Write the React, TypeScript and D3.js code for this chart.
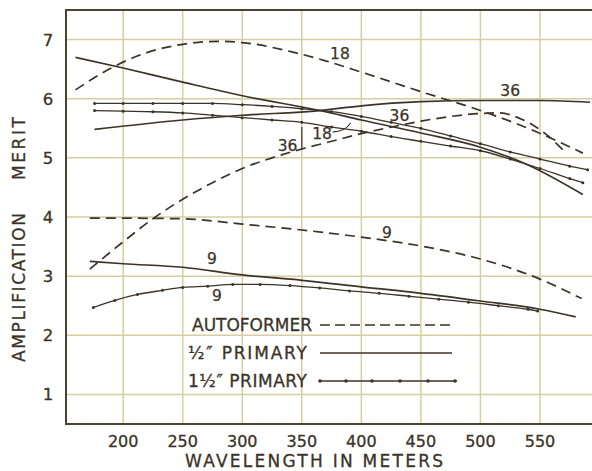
import React, { useEffect, useRef } from "react";
import * as d3 from "d3";

const W = 592;
const H = 471;

// wavelength in meters and amplification merit
const autoformer18X = [160, 190, 220, 250, 280, 300, 340, 370, 400, 450, 500, 540, 586];
const autoformer18Y = [6.15, 6.52, 6.78, 6.92, 6.97, 6.95, 6.8, 6.64, 6.45, 6.12, 5.8, 5.5, 5.08];

const autoformer36X = [172, 200, 225, 250, 275, 300, 325, 350, 375, 400, 425, 450, 475, 500, 515, 535, 555, 570];
const autoformer36Y = [3.12, 3.58, 3.97, 4.3, 4.58, 4.82, 5.0, 5.15, 5.28, 5.41, 5.52, 5.62, 5.7, 5.75, 5.76, 5.65, 5.4, 5.12];

const autoformer9X = [172, 200, 250, 300, 350, 400, 450, 500, 550, 585];
const autoformer9Y = [3.98, 3.98, 3.97, 3.88, 3.78, 3.66, 3.51, 3.29, 2.95, 2.62];

const half18X = [160, 200, 250, 300, 365, 400, 450, 500, 540, 586];
const half18Y = [6.7, 6.52, 6.28, 6.05, 5.8, 5.64, 5.42, 5.18, 4.88, 4.38];

const half36X = [176, 250, 300, 365, 400, 450, 500, 550, 592];
const half36Y = [5.48, 5.64, 5.72, 5.8, 5.88, 5.95, 5.97, 5.97, 5.94];

const half9X = [172, 200, 250, 300, 350, 400, 450, 500, 550, 580];
const half9Y = [3.25, 3.21, 3.15, 3.02, 2.93, 2.82, 2.71, 2.58, 2.44, 2.31];

const oneHalf18X = [176, 200, 225, 250, 275, 300, 325, 350, 375, 400, 425, 450, 475, 500, 525, 550, 575, 590];
const oneHalf18Y = [5.92, 5.92, 5.92, 5.92, 5.92, 5.9, 5.87, 5.83, 5.78, 5.7, 5.6, 5.5, 5.37, 5.24, 5.1, 4.98, 4.86, 4.8];

const oneHalf36X = [176, 200, 225, 250, 275, 300, 325, 350, 375, 400, 425, 450, 475, 500, 525, 550, 575, 586];
const oneHalf36Y = [5.8, 5.79, 5.78, 5.76, 5.72, 5.68, 5.64, 5.6, 5.52, 5.45, 5.36, 5.28, 5.2, 5.12, 4.98, 4.82, 4.65, 4.58];

const oneHalf9X = [175, 193, 212, 233, 250, 271, 292, 315, 340, 365, 390, 415, 440, 465, 490, 515, 540, 548];
const oneHalf9Y = [2.47, 2.59, 2.69, 2.76, 2.81, 2.83, 2.86, 2.86, 2.84, 2.8, 2.75, 2.71, 2.66, 2.61, 2.56, 2.5, 2.44, 2.41];

const xTicks = [200, 250, 300, 350, 400, 450, 500, 550];
const yTicks = [1, 2, 3, 4, 5, 6, 7];

// curve numbers written on the chart (wavelength, merit)
const curveLabels = [
  { text: "18", x: 382, y: 6.77 },
  { text: "36", x: 525, y: 6.15 },
  { text: "36", x: 432, y: 5.72 },
  { text: "18", x: 367, y: 5.42 },
  { text: "36", x: 338, y: 5.22 },
  { text: "9", x: 421.5, y: 3.75 },
  { text: "9", x: 274.6, y: 3.31 },
  { text: "9", x: 278.8, y: 2.68 },
];

const legendNames = ["AUTOFORMER", "\u00BD\u2033 PRIMARY", "1\u00BD\u2033 PRIMARY"];

const ink = "#3b3327";
const gridColor = "#d6cea0";
const font = "'DejaVu Sans', sans-serif";

export default function App() {
  const ref = useRef<SVGSVGElement>(null);

  useEffect(() => {
    const svg = d3.select(ref.current);
    svg.selectAll("*").remove();

    const x = d3.scaleLinear().domain([152, 592]).range([66, 590]);
    const y = d3.scaleLinear().domain([0.5, 7.5]).range([424, 10]);

    // grid
    svg
      .append("g")
      .selectAll("line")
      .data(xTicks)
      .enter()
      .append("line")
      .attr("x1", (d) => x(d))
      .attr("x2", (d) => x(d))
      .attr("y1", y(7.5))
      .attr("y2", y(0.5))
      .attr("stroke", gridColor)
      .attr("stroke-width", 1.5);

    svg
      .append("g")
      .selectAll("line")
      .data(yTicks)
      .enter()
      .append("line")
      .attr("x1", x(152))
      .attr("x2", W)
      .attr("y1", (d) => y(d))
      .attr("y2", (d) => y(d))
      .attr("stroke", gridColor)
      .attr("stroke-width", 1.5);

    // frame: left, bottom, top
    svg
      .append("path")
      .attr("d", `M${W},${y(7.5)}H${x(152)}V${y(0.5)}H${W}`)
      .attr("fill", "none")
      .attr("stroke", "#4a4334")
      .attr("stroke-width", 2);

    // tick labels
    svg
      .append("g")
      .selectAll("text")
      .data(xTicks)
      .enter()
      .append("text")
      .attr("x", (d) => x(d))
      .attr("y", 447)
      .attr("text-anchor", "middle")
      .attr("font-family", font)
      .attr("font-size", 16)
      .attr("fill", ink)
      .attr("stroke", ink)
      .attr("stroke-width", 0.3)
      .text((d) => d);

    svg
      .append("g")
      .selectAll("text")
      .data(yTicks)
      .enter()
      .append("text")
      .attr("x", 48)
      .attr("y", (d) => y(d) + 6)
      .attr("text-anchor", "middle")
      .attr("font-family", font)
      .attr("font-size", 16.5)
      .attr("fill", ink)
      .attr("stroke", ink)
      .attr("stroke-width", 0.3)
      .text((d) => d);

    // axis titles
    svg
      .append("text")
      .attr("x", 185)
      .attr("y", 467)
      .attr("font-family", font)
      .attr("font-size", 17)
      .attr("fill", ink)
      .attr("stroke", ink)
      .attr("stroke-width", 0.3)
      .attr("textLength", 258)
      .attr("lengthAdjust", "spacing")
      .text("WAVELENGTH IN METERS");

    svg
      .append("text")
      .attr("transform", "translate(25,362) rotate(-90)")
      .attr("font-family", font)
      .attr("font-size", 17)
      .attr("fill", ink)
      .attr("stroke", ink)
      .attr("stroke-width", 0.3)
      .attr("textLength", 149)
      .attr("lengthAdjust", "spacing")
      .text("AMPLIFICATION");

    svg
      .append("text")
      .attr("transform", "translate(25,180) rotate(-90)")
      .attr("font-family", font)
      .attr("font-size", 17)
      .attr("fill", ink)
      .attr("stroke", ink)
      .attr("stroke-width", 0.3)
      .attr("textLength", 63)
      .attr("lengthAdjust", "spacing")
      .text("MERIT");

    const line = d3
      .line<[number, number]>()
      .x((d) => x(d[0]))
      .y((d) => y(d[1]))
      .curve(d3.curveMonotoneX);

    const series = [
      { xs: autoformer18X, ys: autoformer18Y, kind: "dash" },
      { xs: autoformer36X, ys: autoformer36Y, kind: "dash" },
      { xs: autoformer9X, ys: autoformer9Y, kind: "dash" },
      { xs: half18X, ys: half18Y, kind: "solid" },
      { xs: half36X, ys: half36Y, kind: "solid" },
      { xs: half9X, ys: half9Y, kind: "solid" },
      { xs: oneHalf18X, ys: oneHalf18Y, kind: "dot" },
      { xs: oneHalf36X, ys: oneHalf36Y, kind: "dot" },
      { xs: oneHalf9X, ys: oneHalf9Y, kind: "dot" },
    ];

    series.forEach((s) => {
      const pts = s.xs.map((v, i) => [v, s.ys[i]] as [number, number]);
      svg
        .append("path")
        .attr("d", line(pts))
        .attr("fill", "none")
        .attr("stroke", ink)
        .attr("stroke-width", s.kind === "dot" ? 1.3 : 1.7)
        .attr("stroke-dasharray", s.kind === "dash" ? "10,6" : null);
      if (s.kind === "dot") {
        svg
          .append("g")
          .selectAll("circle")
          .data(pts)
          .enter()
          .append("circle")
          .attr("cx", (d) => x(d[0]))
          .attr("cy", (d) => y(d[1]))
          .attr("r", 1.5)
          .attr("fill", ink);
      }
    });

    // curve numbers
    svg
      .append("g")
      .selectAll("text")
      .data(curveLabels)
      .enter()
      .append("text")
      .attr("x", (d) => x(d.x))
      .attr("y", (d) => y(d.y) + 6)
      .attr("text-anchor", "middle")
      .attr("font-family", font)
      .attr("font-size", 15.5)
      .attr("fill", ink)
      .attr("stroke", ink)
      .attr("stroke-width", 0.25)
      .text((d) => d.text);

    // leaders for the crowded labels
    svg
      .append("path")
      .attr("d", `M${x(376)},${y(5.44)}Q${x(386)},${y(5.44)} ${x(391)},${y(5.59)}`)
      .attr("fill", "none")
      .attr("stroke", ink)
      .attr("stroke-width", 1.2);
    svg
      .append("line")
      .attr("x1", x(350))
      .attr("x2", x(350))
      .attr("y1", y(5.52))
      .attr("y2", y(5.14))
      .attr("stroke", ink)
      .attr("stroke-width", 1.2);

    // legend
    const legend = svg.append("g");
    legendNames.forEach((name, i) => {
      const ly = 325 + i * 28;
      legend
        .append("text")
        .attr("x", i === 0 ? 192 : 188)
        .attr("y", ly + 6)
        .attr("font-family", font)
        .attr("font-size", 17)
        .attr("fill", ink)
        .attr("stroke", ink)
        .attr("stroke-width", 0.3)
        .attr("textLength", i === 0 ? 120 : 119)
        .attr("lengthAdjust", "spacing")
        .text(name);
      legend
        .append("line")
        .attr("x1", 320)
        .attr("x2", i === 2 ? 457 : 452)
        .attr("y1", ly)
        .attr("y2", ly)
        .attr("stroke", ink)
        .attr("stroke-width", i === 2 ? 1.3 : 1.7)
        .attr("stroke-dasharray", i === 0 ? "10,5" : null);
      if (i === 2) {
        legend
          .selectAll("circle.ld")
          .data([320, 346, 372, 400, 428, 455])
          .enter()
          .append("circle")
          .attr("class", "ld")
          .attr("cx", (d) => d)
          .attr("cy", ly)
          .attr("r", 1.8)
          .attr("fill", ink);
      }
    });
  }, []);

  return (
    <svg
      ref={ref}
      width={W}
      height={H}
      style={{ position: "absolute", left: 0, top: 0, background: "#fff" }}
    />
  );
}
